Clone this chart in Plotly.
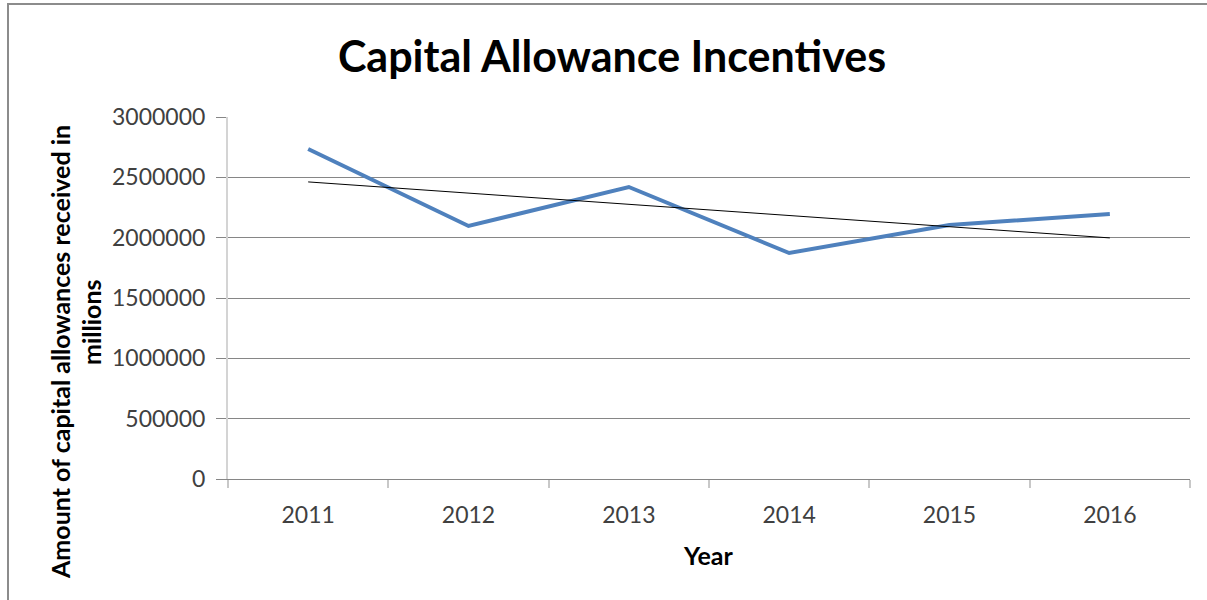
import plotly.graph_objects as go

# Chart data
years = ["2011", "2012", "2013", "2014", "2015", "2016"]
allowances = [2735000, 2097000, 2420000, 1873000, 2105000, 2196000]
# Linear trendline end points (first and last year)
trend_years = ["2011", "2016"]
trend_values = [2462000, 1998000]
y_ticks = [0, 500000, 1000000, 1500000, 2000000, 2500000, 3000000]

W, H = 1207, 600
L, R, T, B = 228, 17, 117, 121
PW, PH = W - L - R, H - T - B


def px_x(px):
    return (px - L) / PW


def px_y(py):
    return (H - B - py) / PH


FONT = "Lato"
TICK_COLOR = "#404040"

fig = go.Figure()

fig.add_trace(go.Scatter(
    x=years, y=allowances, mode="lines",
    line=dict(color="#4f81bd", width=4),
    showlegend=False, hoverinfo="x+y",
))
fig.add_trace(go.Scatter(
    x=trend_years, y=trend_values, mode="lines",
    line=dict(color="#000000", width=1),
    showlegend=False, hoverinfo="skip",
))

fig.update_layout(
    width=W, height=H,
    margin=dict(l=L, r=R, t=T, b=B),
    paper_bgcolor="white", plot_bgcolor="white",
    title=dict(
        text="<b>Capital Allowance Incentives</b>",
        font=dict(family=FONT, size=43, color="#000000"),
        x=612 / W, xanchor="center",
        y=1 - 57 / H, yanchor="middle", yref="container",
    ),
    xaxis=dict(
        type="category",
        range=[-0.5, 5.5],
        showgrid=False,
        showline=True, linecolor="#868686", linewidth=1,
        ticks="outside", tickson="boundaries", ticklen=8,
        tickcolor="#c8c8c8", tickwidth=2,
        ticklabelstandoff=15,
        tickfont=dict(family=FONT, size=23, color=TICK_COLOR),
        zeroline=False,
    ),
    yaxis=dict(
        range=[0, 3000000],
        tickvals=y_ticks,
        ticktext=[str(v) for v in y_ticks],
        showgrid=True, gridcolor="#868686", gridwidth=1,
        showline=True, linecolor="#d4d4d4", linewidth=2,
        ticks="outside", ticklen=10, tickcolor="#868686", tickwidth=1,
        ticklabelstandoff=6,
        tickfont=dict(family=FONT, size=23, color=TICK_COLOR),
        zeroline=False,
    ),
    annotations=[
        dict(
            text="<b>Year</b>",
            x=px_x(708), y=px_y(555), xref="paper", yref="paper",
            xanchor="center", yanchor="middle", showarrow=False,
            font=dict(family=FONT, size=25, color="#000000"),
        ),
        # Vertical axis title, one annotation per line
        dict(
            text="<b>Amount of capital allowances received in</b>",
            x=px_x(60), y=px_y(352), xref="paper", yref="paper",
            xanchor="center", yanchor="middle", showarrow=False,
            textangle=-90,
            font=dict(family=FONT, size=25, color="#000000"),
        ),
        dict(
            text="<b>millions</b>",
            x=px_x(91), y=px_y(322), xref="paper", yref="paper",
            xanchor="center", yanchor="middle", showarrow=False,
            textangle=-90,
            font=dict(family=FONT, size=25, color="#000000"),
        ),
    ],
    shapes=[
        dict(
            type="rect", xref="paper", yref="paper",
            x0=px_x(8), x1=px_x(1215), y0=px_y(610), y1=px_y(4),
            line=dict(color="#8c8c8c", width=2), layer="below",
        ),
    ],
)

fig.write_html("out.html")
